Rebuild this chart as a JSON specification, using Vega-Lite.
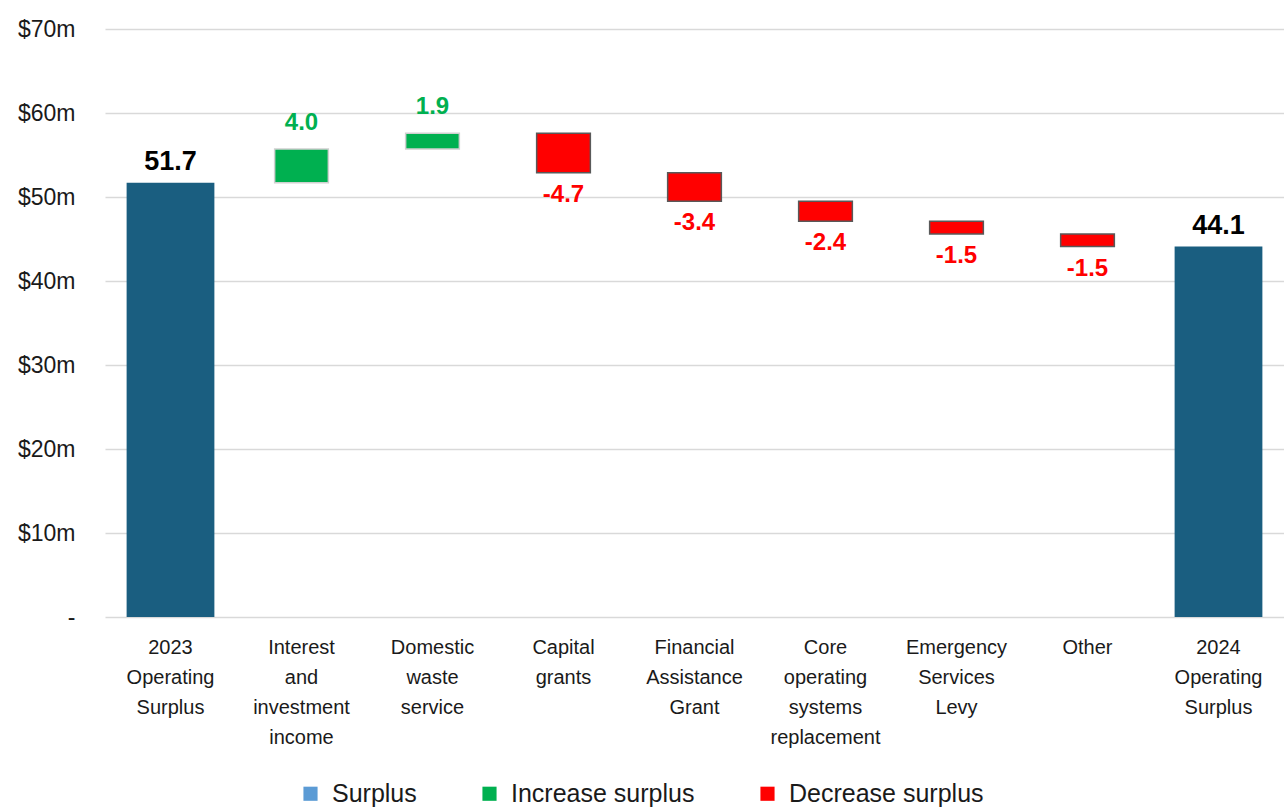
{
  "$schema": "https://vega.github.io/schema/vega-lite/v6.json",
  "width": 1284,
  "height": 807,
  "autosize": {"type": "fit", "contains": "padding"},
  "padding": {"left": 17, "top": 18, "right": 0, "bottom": 60},
  "background": "white",
  "config": {
    "view": {"stroke": null},
    "font": "Liberation Sans",
    "axis": {"labelFont": "Liberation Sans", "labelColor": "#1a1a1a"}
  },
  "data": {
    "values": [
      {"cat": "2023|Operating|Surplus", "start": 0, "end": 51.7, "type": "Surplus", "label": "51.7"},
      {"cat": "Interest|and|investment|income", "start": 51.7, "end": 55.7, "type": "Increase surplus", "label": "4.0"},
      {"cat": "Domestic|waste|service", "start": 55.7, "end": 57.6, "type": "Increase surplus", "label": "1.9"},
      {"cat": "Capital|grants", "start": 57.6, "end": 52.9, "type": "Decrease surplus", "label": "-4.7"},
      {"cat": "Financial|Assistance|Grant", "start": 52.9, "end": 49.5, "type": "Decrease surplus", "label": "-3.4"},
      {"cat": "Core|operating|systems|replacement", "start": 49.5, "end": 47.1, "type": "Decrease surplus", "label": "-2.4"},
      {"cat": "Emergency|Services|Levy", "start": 47.1, "end": 45.6, "type": "Decrease surplus", "label": "-1.5"},
      {"cat": "Other", "start": 45.6, "end": 44.1, "type": "Decrease surplus", "label": "-1.5"},
      {"cat": "2024|Operating|Surplus", "start": 0, "end": 44.1, "type": "Surplus", "label": "44.1"}
    ]
  },
  "encoding": {
    "x": {
      "field": "cat", "type": "nominal", "title": null,
      "scale": {
        "domain": ["2023|Operating|Surplus", "Interest|and|investment|income", "Domestic|waste|service", "Capital|grants", "Financial|Assistance|Grant", "Core|operating|systems|replacement", "Emergency|Services|Levy", "Other", "2024|Operating|Surplus"],
        "paddingInner": 0, "paddingOuter": 0
      },
      "axis": {
        "labelExpr": "split(datum.label, '|')",
        "labelAngle": 0, "labelFontSize": 20, "labelLineHeight": 30,
        "labelPadding": 20, "ticks": false, "domain": false, "labelBaseline": "top", "labelLimit": 0
      }
    }
  },
  "layer": [
    {
      "transform": [{"filter": "datum.type == 'Surplus'"}],
      "mark": {"type": "bar", "width": {"band": 0.67}, "fill": "#1a5e80"},
      "encoding": {
        "y": {
          "field": "end", "type": "quantitative", "title": null,
          "scale": {"domain": [0, 70], "nice": false},
          "axis": {
            "values": [0, 10, 20, 30, 40, 50, 60, 70],
            "labelExpr": "datum.value == 0 ? '-' : '$' + datum.value + 'm'",
            "labelFontSize": 23, "labelPadding": 30, "ticks": false, "domain": false,
            "gridColor": "#d9d9d9", "gridWidth": 1.5
          }
        },
        "y2": {"field": "start"}
      }
    },
    {
      "transform": [{"filter": "datum.type != 'Surplus'"}],
      "mark": {"type": "bar", "width": {"band": 0.41}, "strokeWidth": 1.5},
      "encoding": {
        "y": {"field": "start", "type": "quantitative"},
        "y2": {"field": "end"},
        "color": {
          "field": "type", "type": "nominal", "title": null,
          "scale": {
            "domain": ["Surplus", "Increase surplus", "Decrease surplus"],
            "range": ["#5b9bd5", "#00b050", "#ff0000"]
          },
          "legend": {
            "orient": "none", "legendX": 193, "legendY": 752, "direction": "horizontal", "symbolType": "square",
            "symbolSize": 200, "labelFontSize": 25, "labelColor": "#1a1a1a", "labelLimit": 0,
            "columnPadding": 60, "symbolStrokeWidth": 0, "labelOffset": 9
          }
        },
        "stroke": {
          "field": "type", "type": "nominal", "legend": null,
          "scale": {"domain": ["Increase surplus", "Decrease surplus"], "range": ["#d0d0d0", "#595959"]}
        }
      }
    },
    {
      "transform": [{"filter": "datum.type == 'Surplus'"}],
      "mark": {"type": "text", "fontSize": 27, "fontWeight": "bold", "color": "#000000", "baseline": "alphabetic", "dy": -13},
      "encoding": {"y": {"field": "end", "type": "quantitative"}, "text": {"field": "label"}}
    },
    {
      "transform": [{"filter": "datum.type == 'Increase surplus'"}],
      "mark": {"type": "text", "fontSize": 24, "fontWeight": "bold", "color": "#00b050", "baseline": "alphabetic", "dy": -19},
      "encoding": {"y": {"field": "end", "type": "quantitative"}, "text": {"field": "label"}}
    },
    {
      "transform": [{"filter": "datum.type == 'Decrease surplus'"}],
      "mark": {"type": "text", "fontSize": 24, "fontWeight": "bold", "color": "#ff0000", "baseline": "top", "dy": 10},
      "encoding": {"y": {"field": "end", "type": "quantitative"}, "text": {"field": "label"}}
    }
  ]
}
